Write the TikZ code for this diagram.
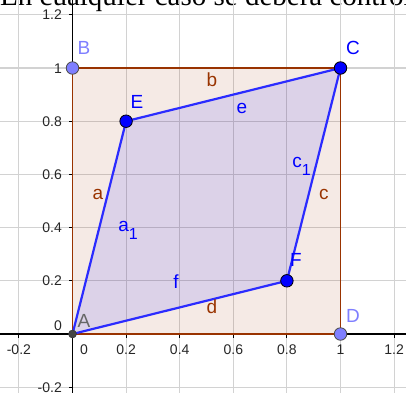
\documentclass[tikz,border=0pt]{standalone}
\usepackage{fontspec}
\setmainfont{Liberation Sans}
\newfontfamily\serifx{Liberation Serif}
\definecolor{ggbrown}{HTML}{993300}
\definecolor{ggblue}{HTML}{0000FF}
\definecolor{ggedge}{HTML}{2B2BFF}
\definecolor{gglav}{HTML}{7F7FFF}
\definecolor{gggrid}{HTML}{D2D2D2}
\definecolor{ggA}{HTML}{444444}
\begin{document}
\begin{tikzpicture}[x=268pt,y=266pt,
  gridline/.style={gggrid, line width=1.1pt},
  axisline/.style={black, line width=1.1pt},
  ticklab/.style={font=\fontsize{14pt}{14pt}\selectfont, text=black!85, inner sep=0pt},
  lab/.style={font=\fontsize{19pt}{19pt}\selectfont, inner sep=0pt, anchor=base},
  bigpt/.style={circle, inner sep=0pt, minimum size=12.5pt, draw=black, line width=0.8pt},
  sqedge/.style={ggbrown, line width=1.4pt},
  paredge/.style={ggedge, line width=2.2pt, line join=round}]
\useasboundingbox (-0.27052,-0.21805) rectangle (1.24440,1.25564);
\clip (-0.27052,-0.21805) rectangle (1.24440,1.25564);
% title line (cut off at top)
\node[anchor=base west, inner sep=0pt, font=\serifx\fontsize{29pt}{29pt}\selectfont] (title) at (-0.2705,1.2368) {En cualquier caso se deberá controlar que};
% grid
\foreach \v in {-0.2,0,0.2,0.4,0.6,0.8,1,1.2} {
  \draw[gridline] (\v,-0.25) -- (\v,1.27);
  \draw[gridline] (-0.3,\v) -- (1.26,\v);
}
% axes
\draw[axisline] (-0.3,0) -- (1.26,0);
\draw[axisline] (0,-0.25) -- (0,1.27);
\foreach \v in {-0.2,0.2,0.4,0.6,0.8,1,1.2} {
  \draw[axisline] (\v,0) -- ++(0,-4pt);
  \draw[axisline] (0,\v) -- ++(-4pt,0);
}
% tick labels
\foreach \v [count=\i] in {-0.2,0.2,0.4,0.6,0.8,1,1.2}
  \node[ticklab, anchor=base] (tx\i) at (\v,-0.0752) {\v};
\node[ticklab, anchor=base] (tx0) at (0.0429,-0.0752) {0};
\foreach \v [count=\i] in {-0.2,0.2,0.4,0.6,0.8,1,1.2}
  \node[ticklab, anchor=base east] (ty\i) at (-0.0392,\v-0.0188) {\v};
\node[ticklab, anchor=base east] (ty0) at (-0.0392,0.0113) {0};
% points
\coordinate (A) at (0,0);
\coordinate (B) at (0,1);
\coordinate (C) at (1,1);
\coordinate (D) at (1,0);
\coordinate (E) at (0.2,0.8);
\coordinate (F) at (0.8,0.2);
% square
\fill[ggbrown, opacity=0.1] (A) -- (B) -- (C) -- (D) -- cycle;
\draw[sqedge] (A) -- (B) -- (C) -- (D) -- cycle;
% parallelogram
\fill[ggblue, opacity=0.1] (A) -- (E) -- (C) -- (F) -- cycle;
\draw[paredge] (A) -- (E) -- (C) -- (F) -- cycle;
% point markers
\node[circle, inner sep=0pt, minimum size=8pt, fill=ggA, draw=black!80, line width=0.5pt] (pA) at (A) {};
\node[bigpt, fill=gglav, draw=black!70] (pB) at (B) {};
\node[bigpt, fill=gglav, draw=black!70] (pD) at (D) {};
\node[bigpt, fill=ggblue] (pC) at (C) {};
\node[bigpt, fill=ggblue] (pE) at (E) {};
\node[bigpt, fill=ggblue] (pF) at (F) {};
% point labels
\node[lab, text=black!60] (lA) at (0.0429,0.0226) {A};
\node[lab, text=gglav] (lB) at (0.0429,1.0526) {B};
\node[lab, text=ggblue] (lC) at (1.0466,1.0489) {C};
\node[lab, text=gglav] (lD) at (1.0466,0.0451) {D};
\node[lab, text=ggblue] (lE) at (0.2407,0.8496) {E};
\node[lab, text=ggblue] (lF) at (0.8340,0.2519) {F};
% segment labels
\node[lab, text=ggbrown] (la) at (0.0951,0.5038) {a};
\node[lab, text=ggbrown] (lb) at (0.5205,0.9286) {b};
\node[lab, text=ggbrown] (lc) at (0.9384,0.5038) {c};
\node[lab, text=ggbrown] (ld) at (0.5205,0.0789) {d};
\node[lab, text=ggblue] (le) at (0.6325,0.8308) {e};
\node[lab, text=ggblue] (lf) at (0.3862,0.1729) {f};
\node[lab, text=ggblue] (la1) at (0.2071,0.3835) {a\raisebox{-8pt}{\fontsize{16pt}{16pt}\selectfont 1}};
\node[lab, text=ggblue] (lc1) at (0.8545,0.6241) {c\raisebox{-8pt}{\fontsize{16pt}{16pt}\selectfont 1}};
\end{tikzpicture}
\end{document}
